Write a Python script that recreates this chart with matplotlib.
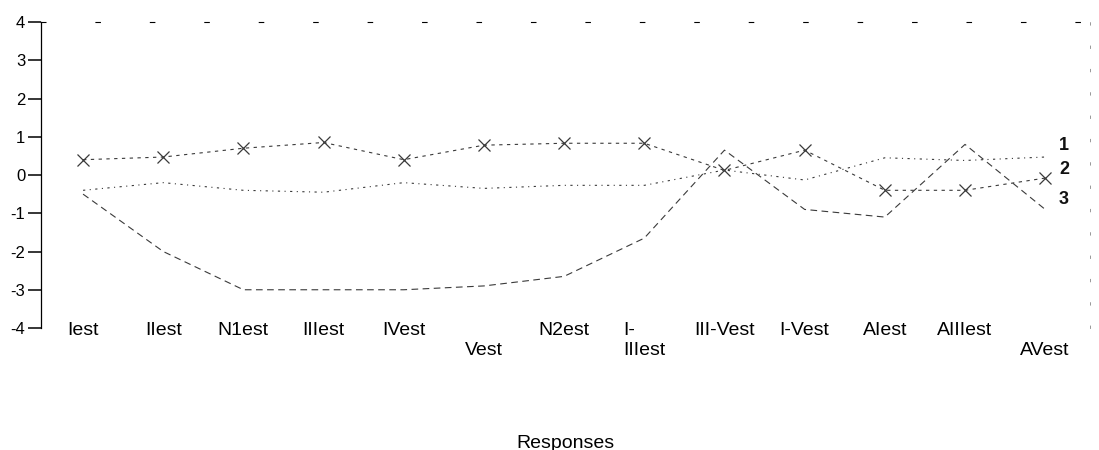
import matplotlib
matplotlib.use("Agg")
import matplotlib.pyplot as plt
import numpy as np

plt.rcParams['font.family'] = ['Liberation Sans', 'DejaVu Sans']
plt.rcParams['axes.unicode_minus'] = False

# response profile, three groups
responses = ['Iest', 'IIest', 'N1est', 'IIIest', 'IVest', 'Vest', 'N2est',
             'I-IIIest', 'III-Vest', 'I-Vest', 'AIest', 'AIIIest', 'AVest']
tick_labels = ['Iest', 'IIest', 'N1est', 'IIIest', 'IVest', '\nVest', 'N2est',
               'I-\nIIIest', 'III-Vest', 'I-Vest', 'AIest', 'AIIIest', '\nAVest']

group1 = [-0.4, -0.2, -0.4, -0.45, -0.2, -0.35, -0.27, -0.27, 0.13, -0.13, 0.45, 0.38, 0.47]
group2 = [0.4, 0.47, 0.7, 0.85, 0.4, 0.78, 0.83, 0.83, 0.12, 0.65, -0.4, -0.4, -0.08]
group3 = [-0.5, -2.0, -3.0, -3.0, -3.0, -2.9, -2.65, -1.65, 0.65, -0.9, -1.1, 0.8, -0.9]
group_names = ['1', '2', '3']

x = np.arange(len(responses))

fig = plt.figure(figsize=(10.99, 4.5), dpi=100)
ax = fig.add_axes([0.0369, 0.2711, 0.955, 0.68])

col = '#3a3a3a'
ax.plot(x, group1, color=col, lw=0.8, linestyle=(0, (2, 4, 1, 4)))
ax.plot(x, group2, color=col, lw=0.8, linestyle=(0, (3, 4)),
        marker='x', markersize=8, markeredgewidth=0.9)
ax.plot(x, group3, color=col, lw=0.8, linestyle=(0, (6, 4)))

# group numbers at the end of each profile
offsets = [(10, 8), (10, 6), (10, 7)]
for name, vals, off in zip(group_names, [group1, group2, group3], offsets):
    ax.annotate(name, (x[-1], vals[-1]), xytext=off, textcoords='offset points',
                fontsize=13, fontweight='bold', va='center', ha='left', color='#111')

ax.set_xlim(-0.53, 12.56)
ax.set_ylim(-4, 4)
ax.set_yticks(range(-4, 5))
ax.set_xticks(x)
ax.set_xticklabels(tick_labels, fontsize=14, multialignment='left')
ax.tick_params(axis='x', length=0, pad=-4)
ax.tick_params(axis='y', direction='out', length=9.5, width=1.1, pad=1.5, labelsize=12)

ax.spines['bottom'].set_visible(False)
ax.spines['top'].set_linestyle((0, (4, 45)))
ax.spines['top'].set_linewidth(0.8)
ax.spines['right'].set_linestyle((0, (3, 25)))
ax.spines['right'].set_linewidth(0.6)
ax.spines['right'].set_color('#888888')
ax.spines['left'].set_linewidth(0.9)

ax.set_xlabel('Responses', fontsize=14)
ax.xaxis.set_label_coords(0.5, -0.35)

fig.savefig('out.png', dpi=100)
